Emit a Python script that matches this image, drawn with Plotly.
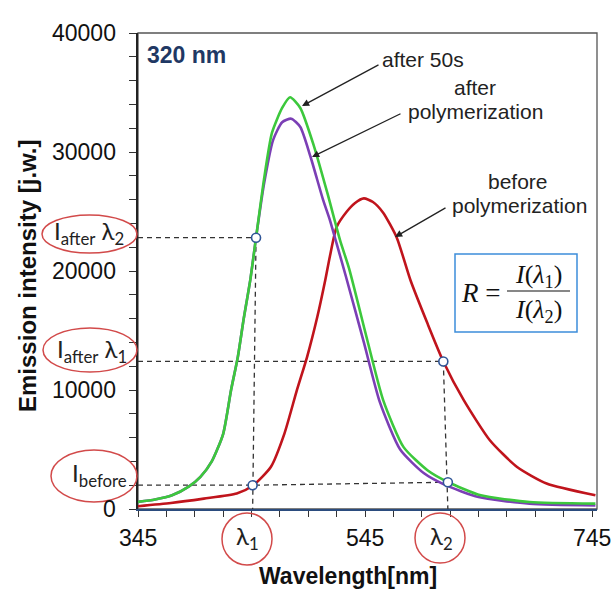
import plotly.graph_objects as go

# ---------------- data ----------------
wl_after50 = [345, 360, 375, 390, 400, 410, 420, 427, 433, 438, 444, 449, 456, 463, 472, 479, 488, 500,
              512, 523, 531, 547, 561, 579, 600, 618, 647, 690, 748]
int_after50 = [600, 800, 1150, 1900, 2700, 4000, 6300, 10000, 12800, 15900, 19300, 22800, 27700, 31600,
               33700, 34600, 33700, 30500, 26500, 22600, 20200, 14200, 9150, 5200, 3260, 2270, 1150, 590, 450]

wl_afterpol = [345, 360, 375, 390, 400, 410, 420, 427, 433, 438, 444, 449, 456, 464, 472, 480, 488, 497,
               508, 514, 520, 528, 544, 558, 576, 597, 615, 645, 690, 748]
int_afterpol = [600, 800, 1150, 1900, 2700, 4000, 6300, 10000, 12800, 15900, 19300, 22800, 27300, 31000,
                32500, 32800, 32100, 29600, 26000, 24300, 22300, 19600, 14000, 9000, 5000, 3000, 2050, 1000,
                450, 300]

wl_before = [345, 374, 403, 432, 446, 462, 474, 485, 494, 503, 510, 514, 520, 529, 536, 544, 552, 561,
             573, 585, 600, 614, 632, 655, 679, 705, 748]
int_before = [230, 500, 870, 1300, 1950, 3530, 6340, 9990, 12790, 16150, 19240, 21200, 23700, 25000,
              25700, 26100, 25800, 24900, 22800, 19240, 15600, 12400, 9150, 5780, 3530, 2140, 1150]

# guide points (lambda1, lambda2 readings)
pt_wl = [449, 446, 614, 618]
pt_int = [22800, 2000, 12400, 2250]

x_ticks = [345, 545, 745]
y_ticks = [0, 10000, 20000, 30000, 40000]

# ---------------- layout geometry (pixels) ----------------
L, T, W, H = 138, 33, 459, 476


def px(xp):
    return (xp - L) / W


def py(yp):
    return (T + H - yp) / H


fig = go.Figure()

dash = dict(color="#333333", width=1.3, dash="5px,4px")
guides = [
    ([345, pt_wl[0]], [pt_int[0], pt_int[0]]),
    ([pt_wl[0], pt_wl[1]], [pt_int[0], 0]),
    ([345, pt_wl[2]], [pt_int[2], pt_int[2]]),
    ([pt_wl[2], pt_wl[3]], [pt_int[2], 0]),
    ([345, pt_wl[1], pt_wl[3]], [pt_int[1], pt_int[1], pt_int[3]]),
]
for gx, gy in guides:
    fig.add_trace(go.Scatter(x=gx, y=gy, mode="lines", line=dash, hoverinfo="skip", showlegend=False))

fig.add_trace(go.Scatter(x=wl_before, y=int_before, mode="lines",
                         line=dict(color="#C0141C", width=2.6, shape="spline", smoothing=0.6),
                         name="before polymerization", showlegend=False))
fig.add_trace(go.Scatter(x=wl_afterpol, y=int_afterpol, mode="lines",
                         line=dict(color="#7B3FB5", width=2.6, shape="spline", smoothing=0.6),
                         name="after polymerization", showlegend=False))
fig.add_trace(go.Scatter(x=wl_after50, y=int_after50, mode="lines",
                         line=dict(color="#3CC83C", width=2.6, shape="spline", smoothing=0.6),
                         name="after 50s", showlegend=False))

fig.add_trace(go.Scatter(x=pt_wl, y=pt_int, mode="markers",
                         marker=dict(size=9, color="white", line=dict(color="#2F5597", width=1.6)),
                         hoverinfo="skip", showlegend=False))

fig.update_xaxes(range=[345, 749.4], tickmode="linear", tick0=345, dtick=200,
                 ticks="outside", ticklen=6, tickwidth=1.3, tickcolor="#333333", showticklabels=False,
                 minor=dict(dtick=25, tick0=345, ticks="outside", ticklen=6, tickwidth=1.3,
                            tickcolor="#333333", showgrid=False),
                 showline=True, linecolor="#2B4C7E", linewidth=2, showgrid=False, zeroline=False)
fig.update_yaxes(range=[0, 40000], tickmode="linear", tick0=0, dtick=10000,
                 ticks="outside", ticklen=7, tickwidth=1.3, tickcolor="#333333", showticklabels=False,
                 minor=dict(dtick=2000, tick0=0, ticks="outside", ticklen=7, tickwidth=1.3,
                            tickcolor="#333333", showgrid=False),
                 showline=True, linecolor="#222222", linewidth=1.5, showgrid=False, zeroline=False)

clear = "rgba(0,0,0,0)"
shapes = [
    dict(type="rect", xref="paper", yref="paper", x0=0, x1=1, y0=0, y1=1, opacity=1,
         line=dict(color="#555555", width=1.3), fillcolor=clear, layer="below"),
    dict(type="rect", xref="paper", yref="paper", x0=px(455), x1=px(577), y0=py(332), y1=py(254),
         opacity=1, line=dict(color="#3C8DDA", width=1.5), fillcolor="white", layer="above"),
    dict(type="line", xref="paper", yref="paper", x0=px(507), x1=px(570), y0=py(291), y1=py(291),
         opacity=1, line=dict(color="#111111", width=1.2)),
]
red = dict(color="#D24A4A", width=1.5)
for (x0, x1, y0, y1) in [(42, 137, 215, 253), (43, 137, 328, 372), (51, 137, 450, 502),
                         (222, 272, 513, 565), (415, 465, 513, 563)]:
    shapes.append(dict(type="circle", xref="paper", yref="paper", x0=px(x0), x1=px(x1),
                       y0=py(y1), y1=py(y0), line=red, fillcolor=clear, opacity=1))
fig.update_layout(shapes=shapes)

tickfont = dict(family="Liberation Sans, Arial", size=23, color="#111111")
ann_font = dict(family="Liberation Sans, Arial", size=21, color="#222222")
lab_font = dict(family="Lato, Open Sans", size=24, color="#222222")
annotations = []
for v in x_ticks:
    annotations.append(dict(text=str(v), x=v, xref="x", y=py(538), xanchor="center", yanchor="middle",
                            font=tickfont))
for v in y_ticks:
    annotations.append(dict(text=str(v), x=px(118), y=v, yref="y", xanchor="right", yanchor="middle",
                            font=tickfont))
annotations += [
    dict(text="<b>320 nm</b>", x=px(145), y=py(55), xanchor="left", yanchor="middle",
         font=dict(family="Liberation Sans, Arial", size=23, color="#1F3864")),
    dict(text="after 50s", x=px(423), y=py(59), xanchor="center", yanchor="middle", font=ann_font),
    dict(text="after", x=px(475), y=py(87), xanchor="center", yanchor="middle", font=ann_font),
    dict(text="polymerization", x=px(475), y=py(112), xanchor="center", yanchor="middle", font=ann_font),
    dict(text="before", x=px(518), y=py(181), xanchor="center", yanchor="middle", font=ann_font),
    dict(text="polymerization", x=px(519), y=py(205), xanchor="center", yanchor="middle", font=ann_font),
    dict(text="<b>Emission intensity [j.w.]</b>", x=px(27), y=py(276), textangle=-90,
         xanchor="center", yanchor="middle", font=dict(family="Liberation Sans, Arial", size=24, color="#111111")),
    dict(text="<b>Wavelength[nm]</b>", x=px(348), y=py(576), xanchor="center", yanchor="middle",
         font=dict(family="Liberation Sans, Arial", size=23, color="#111111")),
    dict(text="I<sub>after</sub> λ<sub>2</sub>", x=px(89), y=py(233), xanchor="center", yanchor="middle", font=lab_font),
    dict(text="I<sub>after</sub> λ<sub>1</sub>", x=px(92), y=py(350), xanchor="center", yanchor="middle", font=lab_font),
    dict(text="I<sub>before</sub>", x=px(99), y=py(474), xanchor="center", yanchor="middle", font=lab_font),
    dict(text="λ<sub>1</sub>", x=px(247), y=py(537), xanchor="center", yanchor="middle", font=lab_font),
    dict(text="λ<sub>2</sub>", x=px(441), y=py(537), xanchor="center", yanchor="middle", font=lab_font),
    dict(text="<i>R</i> =", x=px(480), y=py(293), xanchor="center", yanchor="middle",
         font=dict(family="Liberation Serif, Times New Roman", size=27, color="#111111")),
    dict(text="<i>I</i>(<i>λ</i><sub>1</sub>)", x=px(538), y=py(276), xanchor="center", yanchor="middle",
         font=dict(family="Liberation Serif, Times New Roman", size=26, color="#111111")),
    dict(text="<i>I</i>(<i>λ</i><sub>2</sub>)", x=px(538), y=py(311), xanchor="center", yanchor="middle",
         font=dict(family="Liberation Serif, Times New Roman", size=26, color="#111111")),
]
arrows = [((302, 106), (380, 64)), ((312, 157), (402, 113)), ((395, 237), (447, 207))]
for (hx, hy), (tx, ty) in arrows:
    annotations.append(dict(text="", x=px(hx), y=py(hy), xref="paper", yref="paper", showarrow=True,
                            ax=tx - hx, ay=ty - hy, arrowhead=2, arrowsize=1.1, arrowwidth=1.3,
                            arrowcolor="#222222", standoff=0))
for a in annotations:
    a.setdefault("xref", "paper")
    a.setdefault("yref", "paper")
    a.setdefault("showarrow", False)
fig.update_layout(annotations=annotations)

fig.update_layout(template="simple_white", width=614, height=589,
                  margin=dict(l=L, r=614 - L - W, t=T, b=589 - T - H),
                  paper_bgcolor="white", plot_bgcolor="white", showlegend=False)

fig.write_html("out.html")
